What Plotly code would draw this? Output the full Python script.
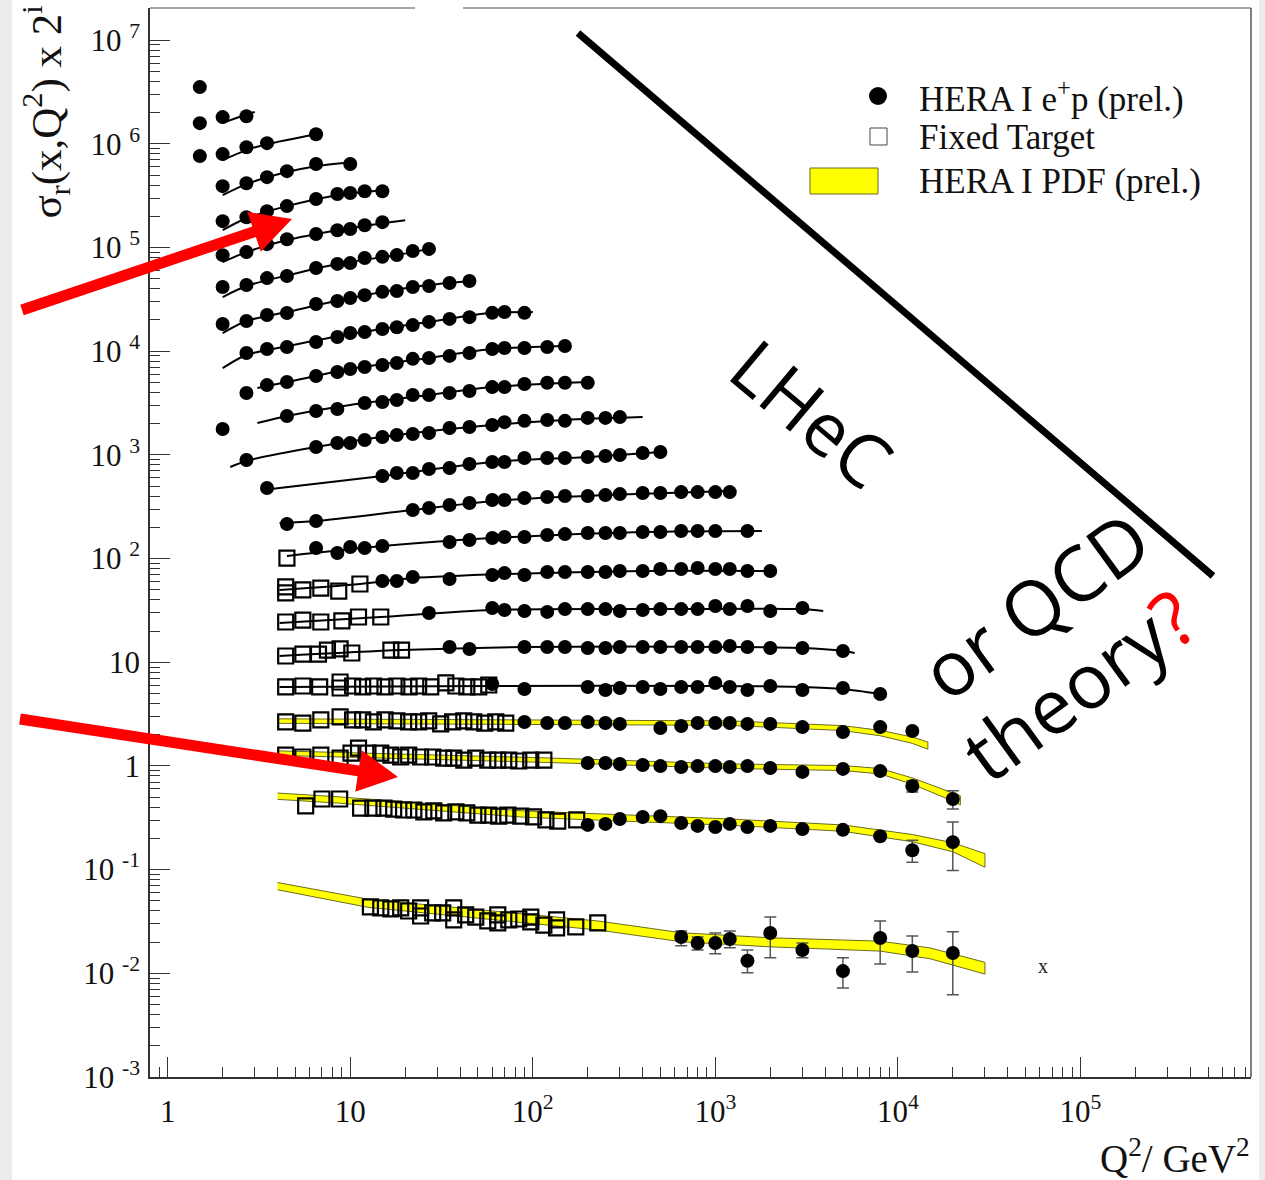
import plotly.graph_objects as go

# Reduced cross section sigma_r(x, Q^2); every x bin i is drawn scaled by 2^i.
# Q2_* in GeV^2, SR_* = sigma_r (unscaled).

# ---- HERA I e+p (prel.) points, per bin i ----
Q2_H22 = [1.5]
SR_H22 = [0.84]
Q2_H21 = [1.5, 2, 2.7]
SR_H21 = [0.755, 0.863, 0.88]
Q2_H20 = [1.5, 2, 2.7, 3.5, 6.5]
SR_H20 = [0.726, 0.759, 0.885, 0.968, 1.18]
Q2_H19 = [2, 2.7, 3.5, 4.5, 6.5, 10]
SR_H19 = [0.745, 0.796, 0.91, 1.04, 1.22, 1.22]
Q2_H18 = [2, 2.7, 3.5, 4.5, 6.5, 8.5, 10, 12, 15]
SR_H18 = [0.685, 0.748, 0.855, 0.957, 1.12, 1.25, 1.28, 1.33, 1.33]
Q2_H17 = [2, 2.7, 3.5, 4.5, 6.5, 8.5, 10, 12, 15]
SR_H17 = [0.644, 0.689, 0.822, 0.918, 1.03, 1.12, 1.15, 1.25, 1.34]
Q2_H16 = [2, 2.7, 3.5, 4.5, 6.5, 8.5, 10, 12, 15, 18, 22, 27]
SR_H16 = [0.634, 0.664, 0.774, 0.811, 0.968, 1.06, 1.08, 1.21, 1.24, 1.29, 1.41, 1.48]
Q2_H15 = [2, 2.7, 3.5, 4.5, 6.5, 8.5, 10, 12, 15, 18, 22, 27, 35, 45]
SR_H15 = [0.558, 0.597, 0.681, 0.713, 0.871, 0.929, 0.993, 1.06, 1.14, 1.16, 1.27, 1.30, 1.39, 1.45]
Q2_H14 = [2.7, 3.5, 4.5, 6.5, 8.5, 10, 12, 15, 18, 22, 27, 35, 45, 60, 70, 90]
SR_H14 = [0.586, 0.641, 0.670, 0.748, 0.836, 0.914, 0.935, 0.998, 1.04, 1.09, 1.17, 1.25, 1.30, 1.43, 1.46, 1.43]
Q2_H13 = [2.7, 3.5, 4.5, 6.5, 8.5, 10, 12, 15, 18, 22, 27, 35, 45, 60, 70, 90, 120, 150]
SR_H13 = [0.482, 0.575, 0.615, 0.703, 0.769, 0.822, 0.859, 0.898, 0.94, 1.03, 1.05, 1.10, 1.17, 1.28, 1.31, 1.31, 1.34, 1.37]
Q2_H12 = [2, 4.5, 6.5, 8.5, 12, 15, 18, 22, 27, 35, 45, 60, 70, 90, 120, 150, 200]
SR_H12 = [0.434, 0.579, 0.647, 0.676, 0.773, 0.791, 0.826, 0.923, 0.923, 0.964, 1.01, 1.10, 1.10, 1.18, 1.21, 1.21, 1.21]
Q2_H11 = [2.7, 6.5, 8.5, 10, 12, 15, 18, 22, 27, 35, 45, 60, 70, 90, 120, 150, 200, 250, 300]
SR_H11 = [0.436, 0.582, 0.635, 0.635, 0.679, 0.726, 0.759, 0.776, 0.794, 0.887, 0.906, 0.948, 1.01, 1.04, 1.06, 1.04, 1.11, 1.11, 1.13]
Q2_H10 = [3.5, 15, 18, 22, 27, 35, 45, 60, 70, 90, 120, 150, 200, 250, 300, 400, 500]
SR_H10 = [0.468, 0.611, 0.653, 0.653, 0.713, 0.729, 0.798, 0.834, 0.834, 0.91, 0.91, 0.91, 0.931, 0.953, 0.973, 1.02, 1.04]
Q2_H9 = [4.5, 6.5, 22, 27, 35, 45, 60, 70, 90, 120, 150, 200, 250, 300, 400, 500, 650, 800, 1000, 1200]
SR_H9 = [0.421, 0.45, 0.574, 0.60, 0.641, 0.67, 0.716, 0.716, 0.748, 0.766, 0.783, 0.783, 0.80, 0.818, 0.838, 0.838, 0.855, 0.855, 0.855, 0.855]
Q2_H8 = [6.5, 8.5, 10, 12, 15, 35, 45, 60, 70, 90, 120, 150, 200, 250, 300, 400, 500, 650, 800, 1000, 1500]
SR_H8 = [0.494, 0.442, 0.505, 0.494, 0.516, 0.564, 0.59, 0.617, 0.631, 0.631, 0.659, 0.673, 0.689, 0.689, 0.689, 0.705, 0.705, 0.721, 0.721, 0.721, 0.721]
Q2_H7 = [15, 18, 22, 35, 60, 70, 90, 120, 150, 200, 250, 300, 400, 500, 650, 800, 1000, 1200, 1500, 2000]
SR_H7 = [0.474, 0.474, 0.519, 0.497, 0.542, 0.566, 0.542, 0.579, 0.579, 0.579, 0.579, 0.593, 0.593, 0.619, 0.619, 0.634, 0.619, 0.619, 0.593, 0.593]
Q2_H6 = [27, 60, 70, 90, 120, 150, 200, 250, 300, 400, 500, 650, 800, 1000, 1200, 1500, 2000, 3000]
SR_H6 = [0.467, 0.521, 0.499, 0.488, 0.478, 0.509, 0.509, 0.509, 0.488, 0.499, 0.509, 0.509, 0.509, 0.545, 0.509, 0.545, 0.488, 0.521]
Q2_H5 = [35, 45, 90, 120, 150, 200, 250, 300, 400, 500, 650, 800, 1000, 1200, 1500, 2000, 3000, 5000]
SR_H5 = [0.439, 0.42, 0.439, 0.439, 0.439, 0.429, 0.429, 0.439, 0.439, 0.439, 0.439, 0.439, 0.439, 0.449, 0.439, 0.429, 0.429, 0.401]
Q2_H4 = [60, 90, 200, 250, 300, 400, 500, 650, 800, 1000, 1200, 1500, 2000, 3000, 5000, 8000]
SR_H4 = [0.385, 0.345, 0.361, 0.337, 0.353, 0.361, 0.345, 0.361, 0.361, 0.394, 0.361, 0.337, 0.369, 0.337, 0.353, 0.309]
Q2_H3 = [90, 120, 150, 200, 250, 300, 500, 650, 800, 1000, 1200, 1500, 2000, 3000, 5000, 8000, 12000]
SR_H3 = [0.332, 0.324, 0.324, 0.332, 0.324, 0.318, 0.290, 0.303, 0.324, 0.324, 0.324, 0.318, 0.318, 0.296, 0.265, 0.296, 0.272]
Q2_H2 = [200, 250, 300, 400, 500, 650, 800, 1000, 1200, 1500, 2000, 3000, 5000, 8000, 12000, 20000]
SR_H2 = [0.267, 0.267, 0.261, 0.255, 0.249, 0.244, 0.249, 0.249, 0.244, 0.249, 0.239, 0.219, 0.234, 0.223, 0.160, 0.120]
EP_H2 = [None, None, None, None, None, None, None, None, None, None, None, None, None, None, 0.02, 0.024]
EM_H2 = [None, None, None, None, None, None, None, None, None, None, None, None, None, None, 0.02, 0.024]
Q2_H1 = [200, 250, 300, 400, 500, 650, 800, 1000, 1200, 1500, 2000, 3000, 5000, 8000, 12000, 20000]
SR_H1 = [0.135, 0.138, 0.154, 0.161, 0.164, 0.141, 0.132, 0.129, 0.138, 0.129, 0.132, 0.123, 0.121, 0.105, 0.077, 0.092]
EP_H1 = [None, None, None, None, None, None, None, None, None, None, None, None, None, None, 0.019, 0.052]
EM_H1 = [None, None, None, None, None, None, None, None, None, None, None, None, None, None, 0.018, 0.043]
Q2_H0 = [650, 800, 1000, 1200, 1500, 2000, 3000, 5000, 8000, 12000, 20000]
SR_H0 = [0.0224, 0.0196, 0.0196, 0.0214, 0.0132, 0.0245, 0.0168, 0.0105, 0.0219, 0.0164, 0.0157]
EP_H0 = [0.0032, 0.0028, 0.0049, 0.0042, 0.0036, 0.0104, 0.0028, 0.0036, 0.0101, 0.0065, 0.0094]
EM_H0 = [0.0040, 0.0028, 0.0042, 0.0038, 0.0031, 0.0104, 0.0027, 0.0033, 0.0096, 0.0061, 0.0095]

# ---- Fixed Target points, per bin i ----
Q2_F8 = [4.5]
SR_F8 = [0.395]
Q2_F7 = [4.43, 4.43, 5.5, 6.9, 8.65, 11.3]
SR_F7 = [0.416, 0.364, 0.389, 0.406, 0.38, 0.444]
Q2_F6 = [4.43, 5.5, 6.9, 9.0, 11.1, 14.7]
SR_F6 = [0.382, 0.399, 0.382, 0.391, 0.427, 0.427]
Q2_F5 = [4.43, 5.5, 6.7, 7.5, 8.8, 10.2, 16.7, 19.1]
SR_F5 = [0.359, 0.375, 0.375, 0.41, 0.42, 0.384, 0.41, 0.41]
Q2_F4 = [4.43, 5.5, 6.8, 8.8, 8.8, 10.3, 11.7, 13.4, 15.5, 18, 21, 23.7, 27.6, 33.4, 37.9, 43.5, 50.6, 57.4]
SR_F4 = [0.361, 0.369, 0.361, 0.403, 0.353, 0.369, 0.361, 0.369, 0.361, 0.369, 0.361, 0.369, 0.361, 0.395, 0.369, 0.361, 0.361, 0.377]
Q2_F3 = [4.43, 5.5, 6.9, 8.8, 10.3, 11.7, 13.4, 15.5, 18, 20.9, 23.7, 26.9, 31.3, 36.4, 41.9, 47.5, 54.6, 62.7, 71.1]
SR_F3 = [0.332, 0.324, 0.347, 0.371, 0.347, 0.347, 0.332, 0.347, 0.340, 0.332, 0.332, 0.340, 0.318, 0.332, 0.340, 0.332, 0.324, 0.332, 0.324]
Q2_F2 = [4.43, 5.5, 6.9, 8.8, 10.1, 11.1, 12.5, 14.7, 16.7, 18.9, 20.9, 24.3, 28.3, 32.5, 36.9, 41.9, 48.7, 56.7, 64.3, 73.9, 83.8, 97.5, 115]
SR_F2 = [0.318, 0.305, 0.318, 0.298, 0.333, 0.372, 0.333, 0.333, 0.318, 0.305, 0.318, 0.305, 0.305, 0.298, 0.298, 0.285, 0.298, 0.285, 0.285, 0.285, 0.279, 0.285, 0.285]
Q2_F1 = [5.7, 7.0, 8.75, 11.4, 13.3, 15.3, 17.3, 19.6, 22.3, 25.3, 28.7, 32.5, 37.9, 43.5, 50, 57.4, 65.1, 73, 86, 101, 118, 137, 174]
SR_F1 = [0.206, 0.240, 0.240, 0.196, 0.196, 0.196, 0.192, 0.188, 0.188, 0.180, 0.184, 0.176, 0.180, 0.176, 0.168, 0.168, 0.164, 0.168, 0.164, 0.161, 0.151, 0.147, 0.151]
Q2_F0 = [12.9, 14.7, 16.7, 18.9, 20.9, 24.3, 24.3, 28.3, 32.1, 36.9, 36.9, 42.9, 48.7, 56.7, 64.3, 64.3, 73.9, 83.8, 97.5, 97.5, 115, 135, 135, 172, 227]
SR_F0 = [0.0437, 0.0427, 0.0418, 0.0427, 0.0399, 0.0427, 0.0357, 0.0382, 0.0382, 0.0427, 0.0327, 0.0366, 0.0349, 0.0320, 0.0366, 0.0306, 0.0327, 0.0334, 0.0349, 0.0313, 0.0292, 0.0327, 0.0274, 0.0280, 0.0306]

# ---- QCD fit curves (black lines), per bin i ----
Q2_C21 = [2, 2.4, 3.0]
SR_C21 = [0.76, 0.85, 0.97]
Q2_C20 = [2, 2.7, 3.5, 6.5]
SR_C20 = [0.664, 0.83, 0.946, 1.18]
Q2_C19 = [2, 2.7, 4.5, 6.5, 10]
SR_C19 = [0.61, 0.78, 1.02, 1.16, 1.27]
Q2_C18 = [2, 2.7, 4.5, 8.5, 15]
SR_C18 = [0.561, 0.73, 0.957, 1.22, 1.36]
Q2_C17 = [2, 2.7, 4.5, 8.5, 15, 20]
SR_C17 = [0.552, 0.689, 0.90, 1.12, 1.31, 1.40]
Q2_C16 = [2, 2.7, 4.5, 8.5, 18, 27]
SR_C16 = [0.508, 0.649, 0.82, 1.06, 1.29, 1.48]
Q2_C15 = [2, 2.7, 4.5, 10, 22, 45]
SR_C15 = [0.457, 0.597, 0.728, 0.993, 1.27, 1.45]
Q2_C14 = [2, 2.7, 4.5, 10, 27, 60, 100]
SR_C14 = [0.42, 0.561, 0.68, 0.893, 1.17, 1.43, 1.46]
Q2_C13 = [3.1, 4.5, 10, 27, 60, 150]
SR_C13 = [0.54, 0.615, 0.822, 1.05, 1.28, 1.37]
Q2_C12 = [3.1, 4.5, 10, 27, 60, 200]
SR_C12 = [0.495, 0.579, 0.74, 0.923, 1.10, 1.23]
Q2_C11 = [2.2, 2.7, 6.5, 18, 60, 150, 400]
SR_C11 = [0.373, 0.427, 0.582, 0.759, 0.948, 1.06, 1.13]
Q2_C10 = [3.3, 15, 60, 200, 500]
SR_C10 = [0.448, 0.611, 0.834, 0.931, 1.04]
Q2_C9 = [4.1, 6.5, 22, 70, 250, 1200]
SR_C9 = [0.43, 0.45, 0.574, 0.716, 0.80, 0.875]
Q2_C8 = [4.5, 15, 60, 400, 1800]
SR_C8 = [0.414, 0.516, 0.617, 0.705, 0.721]
Q2_C7 = [4.1, 11.3, 22, 70, 400, 2000]
SR_C7 = [0.389, 0.444, 0.507, 0.555, 0.593, 0.593]
Q2_C6 = [4.1, 14.7, 60, 400, 3000, 3900]
SR_C6 = [0.373, 0.427, 0.499, 0.509, 0.509, 0.488]
Q2_C5 = [4.1, 19.1, 90, 1200, 3000, 5000, 5800]
SR_C5 = [0.359, 0.41, 0.439, 0.439, 0.429, 0.401, 0.384]
Q2_C4 = [4.1, 60, 1000, 3000, 5000, 8000]
SR_C4 = [0.361, 0.369, 0.369, 0.361, 0.345, 0.309]

# ---- HERA I PDF (prel.) bands: centre and relative half width ----
Q2_B3 = [4.0, 90, 1200, 5000, 8000, 12000, 14600]
SR_B3 = [0.339, 0.332, 0.324, 0.29, 0.26, 0.222, 0.197]
HW_B3 = [0.05, 0.05, 0.05, 0.055, 0.06, 0.07, 0.08]
Q2_B2 = [4.0, 115, 1200, 5000, 8000, 12000, 20000, 22000]
SR_B2 = [0.333, 0.285, 0.249, 0.239, 0.223, 0.179, 0.126, 0.117]
HW_B2 = [0.05, 0.05, 0.05, 0.055, 0.06, 0.07, 0.09, 0.1]
Q2_B1 = [4.0, 8.75, 90, 1200, 5000, 12000, 20000, 30000]
SR_B1 = [0.256, 0.235, 0.172, 0.144, 0.126, 0.101, 0.0826, 0.062]
HW_B1 = [0.07, 0.07, 0.07, 0.07, 0.07, 0.08, 0.1, 0.15]
Q2_B0 = [4.0, 12.5, 230, 650, 2000, 8000, 15000, 30000]
SR_B0 = [0.0695, 0.0476, 0.029, 0.0224, 0.0200, 0.0184, 0.0157, 0.0113]
HW_B0 = [0.08, 0.09, 0.1, 0.1, 0.1, 0.11, 0.12, 0.13]

X_TICKS = [1, 10, 1e2, 1e3, 1e4, 1e5]
X_TICK_TEXT = ["1", "10", "10<sup>2</sup>", "10<sup>3</sup>", "10<sup>4</sup>", "10<sup>5</sup>"]
Y_TICKS = [1e-3, 1e-2, 1e-1, 1, 10, 1e2, 1e3, 1e4, 1e5, 1e6, 1e7]
Y_TICK_TEXT = ["10 <sup>-3</sup>", "10 <sup>-2</sup>", "10 <sup>-1</sup>", "1", "10",
               "10 <sup>2</sup>", "10 <sup>3</sup>", "10 <sup>4</sup>", "10 <sup>5</sup>",
               "10 <sup>6</sup>", "10 <sup>7</sup>"]

HERA_BINS = [
    (22, Q2_H22, SR_H22, None, None), (21, Q2_H21, SR_H21, None, None),
    (20, Q2_H20, SR_H20, None, None), (19, Q2_H19, SR_H19, None, None),
    (18, Q2_H18, SR_H18, None, None), (17, Q2_H17, SR_H17, None, None),
    (16, Q2_H16, SR_H16, None, None), (15, Q2_H15, SR_H15, None, None),
    (14, Q2_H14, SR_H14, None, None), (13, Q2_H13, SR_H13, None, None),
    (12, Q2_H12, SR_H12, None, None), (11, Q2_H11, SR_H11, None, None),
    (10, Q2_H10, SR_H10, None, None), (9, Q2_H9, SR_H9, None, None),
    (8, Q2_H8, SR_H8, None, None), (7, Q2_H7, SR_H7, None, None),
    (6, Q2_H6, SR_H6, None, None), (5, Q2_H5, SR_H5, None, None),
    (4, Q2_H4, SR_H4, None, None), (3, Q2_H3, SR_H3, None, None),
    (2, Q2_H2, SR_H2, EP_H2, EM_H2), (1, Q2_H1, SR_H1, EP_H1, EM_H1),
    (0, Q2_H0, SR_H0, EP_H0, EM_H0),
]
FT_BINS = [(8, Q2_F8, SR_F8), (7, Q2_F7, SR_F7), (6, Q2_F6, SR_F6), (5, Q2_F5, SR_F5),
           (4, Q2_F4, SR_F4), (3, Q2_F3, SR_F3), (2, Q2_F2, SR_F2), (1, Q2_F1, SR_F1),
           (0, Q2_F0, SR_F0)]
CURVE_BINS = [(21, Q2_C21, SR_C21), (20, Q2_C20, SR_C20), (19, Q2_C19, SR_C19),
              (18, Q2_C18, SR_C18), (17, Q2_C17, SR_C17), (16, Q2_C16, SR_C16),
              (15, Q2_C15, SR_C15), (14, Q2_C14, SR_C14), (13, Q2_C13, SR_C13),
              (12, Q2_C12, SR_C12), (11, Q2_C11, SR_C11), (10, Q2_C10, SR_C10),
              (9, Q2_C9, SR_C9), (8, Q2_C8, SR_C8), (7, Q2_C7, SR_C7),
              (6, Q2_C6, SR_C6), (5, Q2_C5, SR_C5), (4, Q2_C4, SR_C4)]
BAND_BINS = [(3, Q2_B3, SR_B3, HW_B3), (2, Q2_B2, SR_B2, HW_B2),
             (1, Q2_B1, SR_B1, HW_B1), (0, Q2_B0, SR_B0, HW_B0)]

# ---- page geometry (pixels) ----
W, H = 1265, 1180
ML, MR, MT, MB = 150, 14, 8, 103
PW, PH = W - ML - MR, H - MT - MB
SERIF = "Liberation Serif"
HAND = "Open Sans"


def pxx(x):
    return (x - ML) / PW


def pxy(y):
    return (H - MB - y) / PH


def arrow_path(tail, tip, shaft, head_len, head_half):
    dx, dy = tip[0] - tail[0], tip[1] - tail[1]
    n = (dx * dx + dy * dy) ** 0.5
    ux, uy = dx / n, dy / n
    nx, ny = -uy, ux
    bx, by = tip[0] - ux * head_len, tip[1] - uy * head_len
    s = shaft / 2
    pts = [(tail[0] + nx * s, tail[1] + ny * s), (bx + nx * s, by + ny * s),
           (bx + nx * head_half, by + ny * head_half), tip,
           (bx - nx * head_half, by - ny * head_half), (bx - nx * s, by - ny * s),
           (tail[0] - nx * s, tail[1] - ny * s)]
    return "M " + " L ".join(f"{pxx(x):.5f},{pxy(y):.5f}" for x, y in pts) + " Z"


fig = go.Figure()

# PDF bands
for i, q2, sr, hw in BAND_BINS:
    sc = 2 ** i
    up = [s * (1 + h) * sc for s, h in zip(sr, hw)]
    lo = [s * (1 - h) * sc for s, h in zip(sr, hw)]
    fig.add_trace(go.Scatter(
        x=q2 + q2[::-1], y=up + lo[::-1], mode="lines", fill="toself",
        fillcolor="#ffff00", line=dict(color="#6b6b20", width=1),
        hoverinfo="skip", showlegend=False))

# QCD fit curves
for i, q2, sr in CURVE_BINS:
    sc = 2 ** i
    fig.add_trace(go.Scatter(
        x=q2, y=[s * sc for s in sr], mode="lines",
        line=dict(color="black", width=2, shape="spline", smoothing=0.8),
        hoverinfo="skip", showlegend=False))

# Fixed target points
ft_x, ft_y = [], []
for i, q2, sr in FT_BINS:
    ft_x += q2
    ft_y += [s * 2 ** i for s in sr]
fig.add_trace(go.Scatter(
    x=ft_x, y=ft_y, mode="markers", name="Fixed Target",
    marker=dict(symbol="square-open", size=15, color="black",
                line=dict(color="black", width=2.2)),
    showlegend=False))

# HERA points (with error bars where visible)
hx, hy, hep, hem = [], [], [], []
for i, q2, sr, ep, em in HERA_BINS:
    sc = 2 ** i
    hx += q2
    hy += [s * sc for s in sr]
    hep += [None if e is None else e * sc for e in (ep or [None] * len(q2))]
    hem += [None if e is None else e * sc for e in (em or [None] * len(q2))]
fig.add_trace(go.Scatter(
    x=hx, y=hy, mode="markers", name="HERA I e+p (prel.)",
    marker=dict(symbol="circle", size=14, color="black"),
    error_y=dict(type="data", symmetric=False, array=hep, arrayminus=hem,
                 color="#555555", thickness=1.5, width=6),
    showlegend=False))

axis_common = dict(
    type="log", showgrid=False, zeroline=False, showline=True,
    linecolor="#333333", linewidth=1.5, ticks="inside", ticklen=20,
    tickwidth=1, tickcolor="#333333",
    minor=dict(ticks="inside", ticklen=10, tickwidth=1, tickcolor="#333333",
               dtick="D1", showgrid=False),
    tickfont=dict(family=SERIF, size=31, color="#111111"),
    tickmode="array",
)
fig.update_xaxes(range=[-0.0969, 5.9345], tickvals=X_TICKS, ticktext=X_TICK_TEXT,
                 ticklabelstandoff=6, **axis_common)
fig.update_yaxes(range=[-3, 7.31], tickvals=Y_TICKS, ticktext=Y_TICK_TEXT,
                 ticklabelstandoff=2, **axis_common)

shapes = [
    # side margins of the page
    dict(type="rect", xref="paper", yref="paper", x0=pxx(0), x1=pxx(12),
         y0=pxy(H), y1=pxy(0), fillcolor="#ececec", line=dict(width=0), layer="below"),
    dict(type="rect", xref="paper", yref="paper", x0=pxx(1259), x1=pxx(W),
         y0=pxy(H), y1=pxy(0), fillcolor="#ececec", line=dict(width=0), layer="below"),
    # top and right frame
    dict(type="line", xref="paper", yref="paper", x0=0, x1=pxx(415), y0=1, y1=1,
         line=dict(color="#888888", width=1.5)),
    dict(type="line", xref="paper", yref="paper", x0=pxx(463), x1=1, y0=1, y1=1,
         line=dict(color="#888888", width=1.5)),
    dict(type="line", xref="paper", yref="paper", x0=1, x1=1, y0=0, y1=1,
         line=dict(color="#555555", width=1.5)),
    # kinematic boundary line
    dict(type="line", xref="paper", yref="paper", x0=pxx(578), y0=pxy(33),
         x1=pxx(1213), y1=pxy(576), line=dict(color="black", width=7)),
    # red arrows
    dict(type="path", xref="paper", yref="paper",
         path=arrow_path((22, 310), (292, 219), 11, 40, 21),
         fillcolor="#ff0000", line=dict(width=0)),
    dict(type="path", xref="paper", yref="paper",
         path=arrow_path((20, 719), (398, 777), 11, 40, 21),
         fillcolor="#ff0000", line=dict(width=0)),
    # legend symbols
    dict(type="circle", xref="paper", yref="paper", x0=pxx(869), x1=pxx(887),
         y0=pxy(105), y1=pxy(87), fillcolor="black", line=dict(width=0)),
    dict(type="rect", xref="paper", yref="paper", x0=pxx(870), x1=pxx(887),
         y0=pxy(145), y1=pxy(128), fillcolor="white", line=dict(color="#444444", width=1)),
    dict(type="rect", xref="paper", yref="paper", x0=pxx(810), x1=pxx(878),
         y0=pxy(194), y1=pxy(168), fillcolor="#ffff00", line=dict(color="#6b6b20", width=1)),
]

annotations = [
    dict(text="HERA I e<sup>+</sup>p (prel.)", x=pxx(917), y=pxy(97)),
    dict(text="Fixed Target", x=pxx(917), y=pxy(137)),
    dict(text="HERA I PDF (prel.)", x=pxx(917), y=pxy(182)),
]
annotations = [dict(a, xref="paper", yref="paper", xanchor="left", yanchor="middle",
                    showarrow=False, font=dict(family=SERIF, size=35, color="#111111"))
               for a in annotations]
annotations += [
    dict(text="σ<sub>r</sub>(x,Q<sup>2</sup>) x 2<sup>i</sup>", xref="paper", yref="paper",
         x=pxx(46), y=pxy(4), xanchor="center", yanchor="top", textangle=-90,
         showarrow=False, font=dict(family=SERIF, size=43, color="#111111")),
    dict(text="Q<sup>2</sup>/ GeV<sup>2</sup>", xref="paper", yref="paper",
         x=pxx(1252), y=pxy(1156), xanchor="right", yanchor="middle",
         showarrow=False, font=dict(family=SERIF, size=39, color="#111111")),
    dict(text="x", xref="paper", yref="paper", x=pxx(1043), y=pxy(966),
         xanchor="center", yanchor="middle", showarrow=False,
         font=dict(family=SERIF, size=20, color="#222222")),
    dict(text="LHeC", xref="paper", yref="paper", x=pxx(812), y=pxy(412),
         xanchor="center", yanchor="middle", textangle=40, showarrow=False,
         font=dict(family=HAND, size=74, color="black")),
    dict(text="or QCD", xref="paper", yref="paper", x=pxx(1034), y=pxy(604),
         xanchor="center", yanchor="middle", textangle=-36, showarrow=False,
         font=dict(family=HAND, size=76, color="black")),
    dict(text="theory<span style='color:#ff0000'>?</span>", xref="paper", yref="paper",
         x=pxx(1078), y=pxy(684), xanchor="center", yanchor="middle", textangle=-36,
         showarrow=False, font=dict(family=HAND, size=76, color="black")),
]

fig.update_layout(
    width=W, height=H, margin=dict(l=ML, r=MR, t=MT, b=MB),
    paper_bgcolor="white", plot_bgcolor="white", showlegend=False,
    shapes=shapes, annotations=annotations,
)

fig.write_html("out.html")
